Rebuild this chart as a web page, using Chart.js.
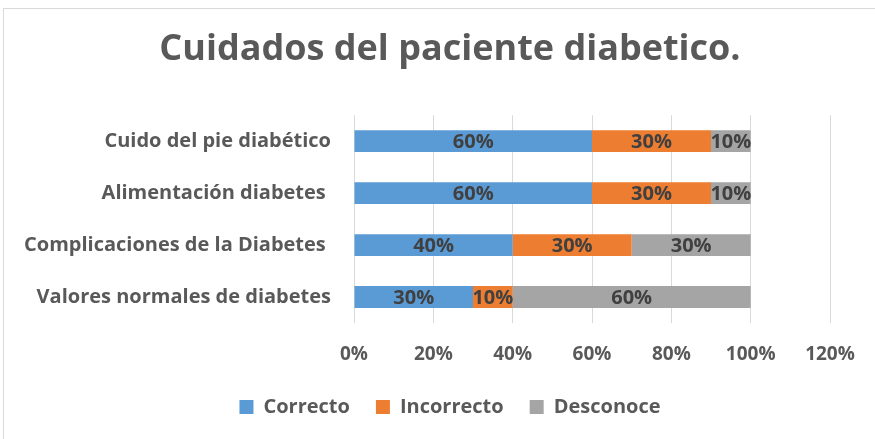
<!DOCTYPE html>
<html>
<head>
<meta charset="utf-8">
<script src="https://cdn.jsdelivr.net/npm/chart.js@4"></script>
<style>
  html, body { margin: 0; padding: 0; background: #fff; }
  #wrap { width: 875px; height: 439px; }
</style>
</head>
<body>
<div id="wrap"><canvas id="myChart"></canvas></div>
<script>
const categories = ['Cuido del pie diabético', 'Alimentación diabetes ', 'Complicaciones de la Diabetes ', 'Valores normales de diabetes'];
const correcto = [60, 60, 40, 30];
const incorrecto = [30, 30, 30, 10];
const desconoce = [10, 10, 30, 60];
const tickValues = [0, 20, 40, 60, 80, 100, 120];

const FONT = "'Open Sans', 'Liberation Sans', sans-serif";

// draws the percentages inside each segment
const barLabels = {
    id: 'barLabels',
    afterDatasetsDraw(chart) {
        const ctx = chart.ctx;
        ctx.save();
        ctx.font = 'bold 20px ' + FONT;
        ctx.fillStyle = '#404040';
        ctx.textAlign = 'center';
        ctx.textBaseline = 'middle';
        chart.data.datasets.forEach((ds, i) => {
            chart.getDatasetMeta(i).data.forEach((bar, j) => {
                const p = bar.getProps(['x', 'y', 'base'], true);
                ctx.fillText(ds.data[j] + '%', (p.x + p.base) / 2, p.y + 1);
            });
        });
        ctx.restore();
    }
};

// light frame round the chart, title and legend nudged right like the original
const frame = {
    id: 'frame',
    afterLayout(chart) {
        chart.titleBlock.left += 60;
        chart.legend.left += 60;
    },
    beforeDraw(chart) {
        const ctx = chart.ctx;
        ctx.save();
        ctx.strokeStyle = '#d9d9d9';
        ctx.lineWidth = 1;
        ctx.strokeRect(3.5, 8.5, chart.width, chart.height);
        ctx.restore();
    }
};

const ctx = document.getElementById('myChart').getContext('2d');
new Chart(ctx, {
    type: 'bar',
    data: {
        labels: categories,
        datasets: [
            { label: 'Correcto', data: correcto, backgroundColor: '#5B9BD5' },
            { label: 'Incorrecto', data: incorrecto, backgroundColor: '#ED7D31' },
            { label: 'Desconoce', data: desconoce, backgroundColor: '#A5A5A5' }
        ]
    },
    options: {
        indexAxis: 'y',
        responsive: true,
        maintainAspectRatio: false,
        animation: false,
        barPercentage: 0.42,
        categoryPercentage: 1,
        layout: { padding: { top: 10, left: 10, right: 45, bottom: 12 } },
        scales: {
            x: {
                stacked: true,
                min: 0,
                max: 120,
                afterBuildTicks(scale) {
                    scale.ticks = tickValues.map(v => ({ value: v }));
                },
                afterFit(scale) { scale.height = 48; },
                grid: { color: '#d9d9d9', drawTicks: false },
                border: { display: false },
                ticks: {
                    padding: 20,
                    color: '#595959',
                    font: { family: FONT, size: 19, weight: 'bold' },
                    callback: v => v + '%'
                }
            },
            y: {
                stacked: true,
                afterFit(scale) { scale.width = 344; },
                grid: { display: false },
                border: { display: false },
                ticks: {
                    padding: 15,
                    color: '#595959',
                    font: { family: FONT, size: 20, weight: 'bold' }
                }
            }
        },
        plugins: {
            title: {
                display: true,
                text: 'Cuidados del paciente diabetico.',
                color: '#595959',
                font: { family: FONT, size: 36, weight: 'bold' },
                padding: { top: 18, bottom: 44 }
            },
            legend: {
                position: 'bottom',
                labels: {
                    color: '#595959',
                    font: { family: FONT, size: 20, weight: 'bold' },
                    boxWidth: 14,
                    boxHeight: 14,
                    padding: 26
                }
            },
            tooltip: { enabled: false }
        }
    },
    plugins: [barLabels, frame]
});
</script>
</body>
</html>
